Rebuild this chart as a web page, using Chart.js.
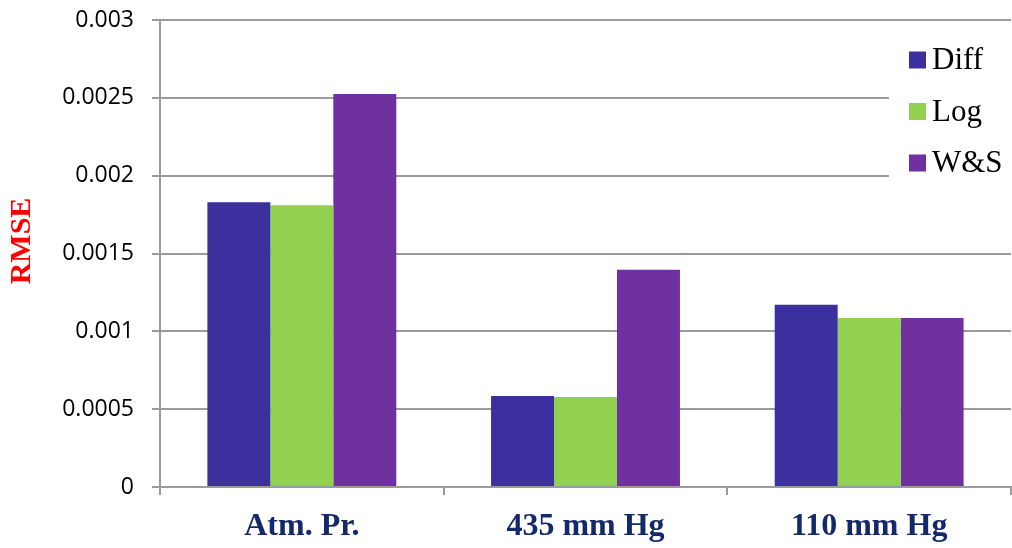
<!DOCTYPE html>
<html>
<head>
  <meta charset="UTF-8">
  <title>RMSE by pressure</title>
  <script src="https://cdn.jsdelivr.net/npm/chart.js"></script>
  <style>
    body { margin: 0; background: #fff; }
    #wrap { width: 1012px; height: 548px; }
  </style>
</head>
<body>
  <div id="wrap"><canvas id="rmseChart" width="1012" height="548"></canvas></div>

  <script>
    const categories = ['Atm. Pr.', '435 mm Hg', '110 mm Hg'];
    const diffVals = [0.00183, 0.000585, 0.00117];
    const logVals = [0.00181, 0.000578, 0.001085];
    const wsVals = [0.002525, 0.001395, 0.001085];
    const yTickLabels = ['0', '0.0005', '0.001', '0.0015', '0.002', '0.0025', '0.003'];

    const gridGray = '#9a9a9a';

    // legend box + rotated axis title, drawn over the plot
    const overlay = {
      id: 'overlay',
      afterDraw(chart) {
        const ctx = chart.ctx;
        ctx.save();
        ctx.fillStyle = '#fff';
        ctx.fillRect(889, 34, 122, 156);
        ctx.font = '31px "Liberation Serif", serif';
        ctx.textBaseline = 'middle';
        chart.data.datasets.forEach((ds, i) => {
          const y = 60 + i * 51.5;
          ctx.fillStyle = ds.backgroundColor;
          ctx.fillRect(909, y - 8.5, 17, 17);
          ctx.fillStyle = '#000';
          ctx.fillText(ds.label, 932, y + 1);
        });
        ctx.translate(22, 241);
        ctx.rotate(-Math.PI / 2);
        ctx.textAlign = 'center';
        ctx.fillStyle = '#ff0000';
        ctx.font = 'bold 30px "Liberation Serif", serif';
        ctx.fillText('RMSE', 0, 0);
        ctx.restore();
      }
    };

    new Chart(document.getElementById('rmseChart'), {
      type: 'bar',
      data: {
        labels: categories,
        datasets: [
          { label: 'Diff', data: diffVals, backgroundColor: '#3c2f9e' },
          { label: 'Log', data: logVals, backgroundColor: '#92d050' },
          { label: 'W&S', data: wsVals, backgroundColor: '#7030a0' }
        ]
      },
      options: {
        responsive: false,
        animation: false,
        layout: { padding: { top: 20, right: 1, left: 0, bottom: 0 } },
        datasets: { bar: { categoryPercentage: 0.666, barPercentage: 1 } },
        plugins: { legend: { display: false }, tooltip: { enabled: false } },
        scales: {
          x: {
            afterFit(s) { s.height = 61; s.paddingLeft = 0; s.paddingRight = 0; },
            grid: { drawOnChartArea: false, color: gridGray, lineWidth: 2, tickLength: 8 },
            border: { color: gridGray, width: 2 },
            ticks: {
              color: '#13296b',
              padding: 13,
              font: { family: '"Liberation Serif", serif', size: 32, weight: 'bold' }
            }
          },
          y: {
            min: 0,
            max: 0.003,
            afterFit(s) { s.width = 160; s.paddingTop = 0; s.paddingBottom = 0; },
            grid: { color: gridGray, lineWidth: 2, tickLength: 8 },
            border: { color: gridGray, width: 2 },
            ticks: {
              stepSize: 0.0005,
              padding: 18,
              color: '#000',
              font: { family: '"Open Sans", sans-serif', size: 23 },
              callback: (v, i) => yTickLabels[i]
            }
          }
        }
      },
      plugins: [overlay]
    });
  </script>
</body>
</html>
